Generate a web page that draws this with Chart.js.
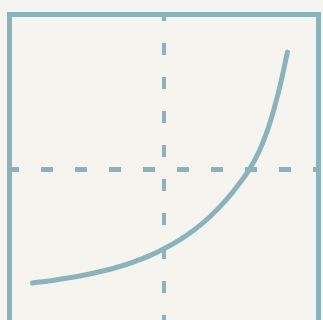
<!DOCTYPE html>
<html>
<head>
<meta charset="utf-8">
<script src="https://cdn.jsdelivr.net/npm/chart.js@4.4.1/dist/chart.umd.min.js"></script>
<style>
  html, body { margin: 0; padding: 0; background: #f5f4ef; overflow: hidden; }
  canvas { display: block; }
</style>
</head>
<body>
<canvas id="curve-chart" width="323" height="340"></canvas>
<script>
// Curve values (both axes run 0..100)
const curveX = [7.6, 15, 20, 25, 30, 35, 40, 45, 50, 55, 60, 65, 70, 74, 78, 81, 84, 86, 88, 90.1];
const curveY = [13.2, 14.2, 15.0, 15.9, 17.0, 18.3, 19.9, 21.8, 24.2, 27.0, 30.4, 34.6, 39.7, 44.6, 50.2, 55.8, 63.5, 70.2, 78.0, 87.7];
const axisTicks = [0, 50, 100];

const lineColor = '#8cb3bb';

const points = curveX.map((x, i) => ({ x: x, y: curveY[i] }));

// only the middle grid line is shown
function midGrid(ctx) {
  return ctx.tick && ctx.tick.value === 50 ? lineColor : 'transparent';
}

function setTicks(axis) {
  axis.ticks = axisTicks.map(v => ({ value: v }));
}

const frameAxis = {
  type: 'linear',
  min: 0,
  max: 100,
  ticks: { display: false },
  grid: { display: false, drawTicks: false },
  border: { display: true, color: lineColor, width: 5 }
};

new Chart(document.getElementById('curve-chart'), {
  type: 'line',
  data: {
    datasets: [{
      data: points,
      borderColor: lineColor,
      borderWidth: 5,
      borderCapStyle: 'round',
      borderJoinStyle: 'round',
      cubicInterpolationMode: 'monotone',
      pointRadius: 0,
      fill: false
    }]
  },
  options: {
    responsive: false,
    animation: false,
    devicePixelRatio: 1,
    layout: {
      autoPadding: false,
      padding: { left: 9, top: 14, right: 5, bottom: 16 }
    },
    plugins: {
      legend: { display: false },
      tooltip: { enabled: false }
    },
    scales: {
      x: {
        type: 'linear',
        position: 'bottom',
        min: 0,
        max: 100,
        afterBuildTicks: setTicks,
        ticks: { display: false },
        grid: { color: midGrid, lineWidth: 4, drawTicks: false },
        border: { display: true, color: lineColor, width: 5, dash: [12, 22], dashOffset: 5 }
      },
      y: {
        type: 'linear',
        position: 'left',
        min: 0,
        max: 100,
        afterBuildTicks: setTicks,
        ticks: { display: false },
        grid: { color: midGrid, lineWidth: 5, drawTicks: false },
        border: { display: true, color: lineColor, width: 5, dash: [12, 22], dashOffset: 5 }
      },
      xTop: Object.assign({}, frameAxis, { position: 'top', axis: 'x' }),
      yRight: Object.assign({}, frameAxis, { position: 'right', axis: 'y' })
    }
  }
});
</script>
</body>
</html>
